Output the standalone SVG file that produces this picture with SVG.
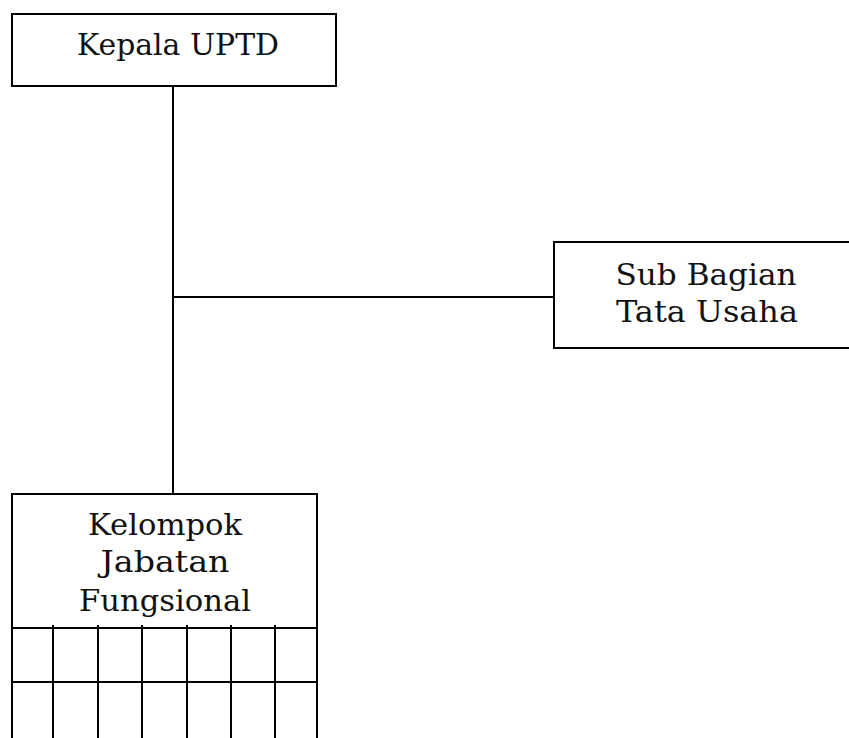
<svg xmlns="http://www.w3.org/2000/svg" width="849" height="738" viewBox="0 0 849 738">
<style>
.box{fill:#fff;stroke:#000;stroke-width:2}
.ln{stroke:#000;stroke-width:2;fill:none}
.t{font-family:"DejaVu Serif","Liberation Serif",serif;font-size:30px;fill:#111;text-anchor:middle}
</style>
<rect width="849" height="738" fill="#fff"/>
<g id="connectors">
<line class="ln" x1="173" y1="86" x2="173" y2="494"/>
<line class="ln" x1="172" y1="297" x2="556" y2="297"/>
</g>
<g id="kepala">
<rect class="box" x="12" y="14" width="324" height="72"/>
<text class="t" x="178" y="55" textLength="202" lengthAdjust="spacingAndGlyphs">Kepala UPTD</text>
</g>
<g id="subbagian">
<rect class="box" x="554" y="242" width="310" height="106"/>
<text class="t" x="706" y="285" textLength="181" lengthAdjust="spacingAndGlyphs">Sub Bagian</text>
<text class="t" x="707" y="322" textLength="182" lengthAdjust="spacingAndGlyphs">Tata Usaha</text>
</g>
<g id="kelompok">
<rect class="box" x="12" y="494" width="305" height="260"/>
<text class="t" x="165" y="535" textLength="154" lengthAdjust="spacingAndGlyphs">Kelompok</text>
<text class="t" x="165" y="572" textLength="129" lengthAdjust="spacingAndGlyphs">Jabatan</text>
<text class="t" x="165" y="611" textLength="172" lengthAdjust="spacingAndGlyphs">Fungsional</text>
<line class="ln" x1="12" y1="628" x2="317" y2="628"/>
<line class="ln" x1="12" y1="682" x2="317" y2="682"/>
<line class="ln" x1="53" y1="625" x2="53" y2="738"/>
<line class="ln" x1="98" y1="625" x2="98" y2="738"/>
<line class="ln" x1="142" y1="625" x2="142" y2="738"/>
<line class="ln" x1="187" y1="625" x2="187" y2="738"/>
<line class="ln" x1="231" y1="625" x2="231" y2="738"/>
<line class="ln" x1="275" y1="625" x2="275" y2="738"/>
</g>
</svg>
